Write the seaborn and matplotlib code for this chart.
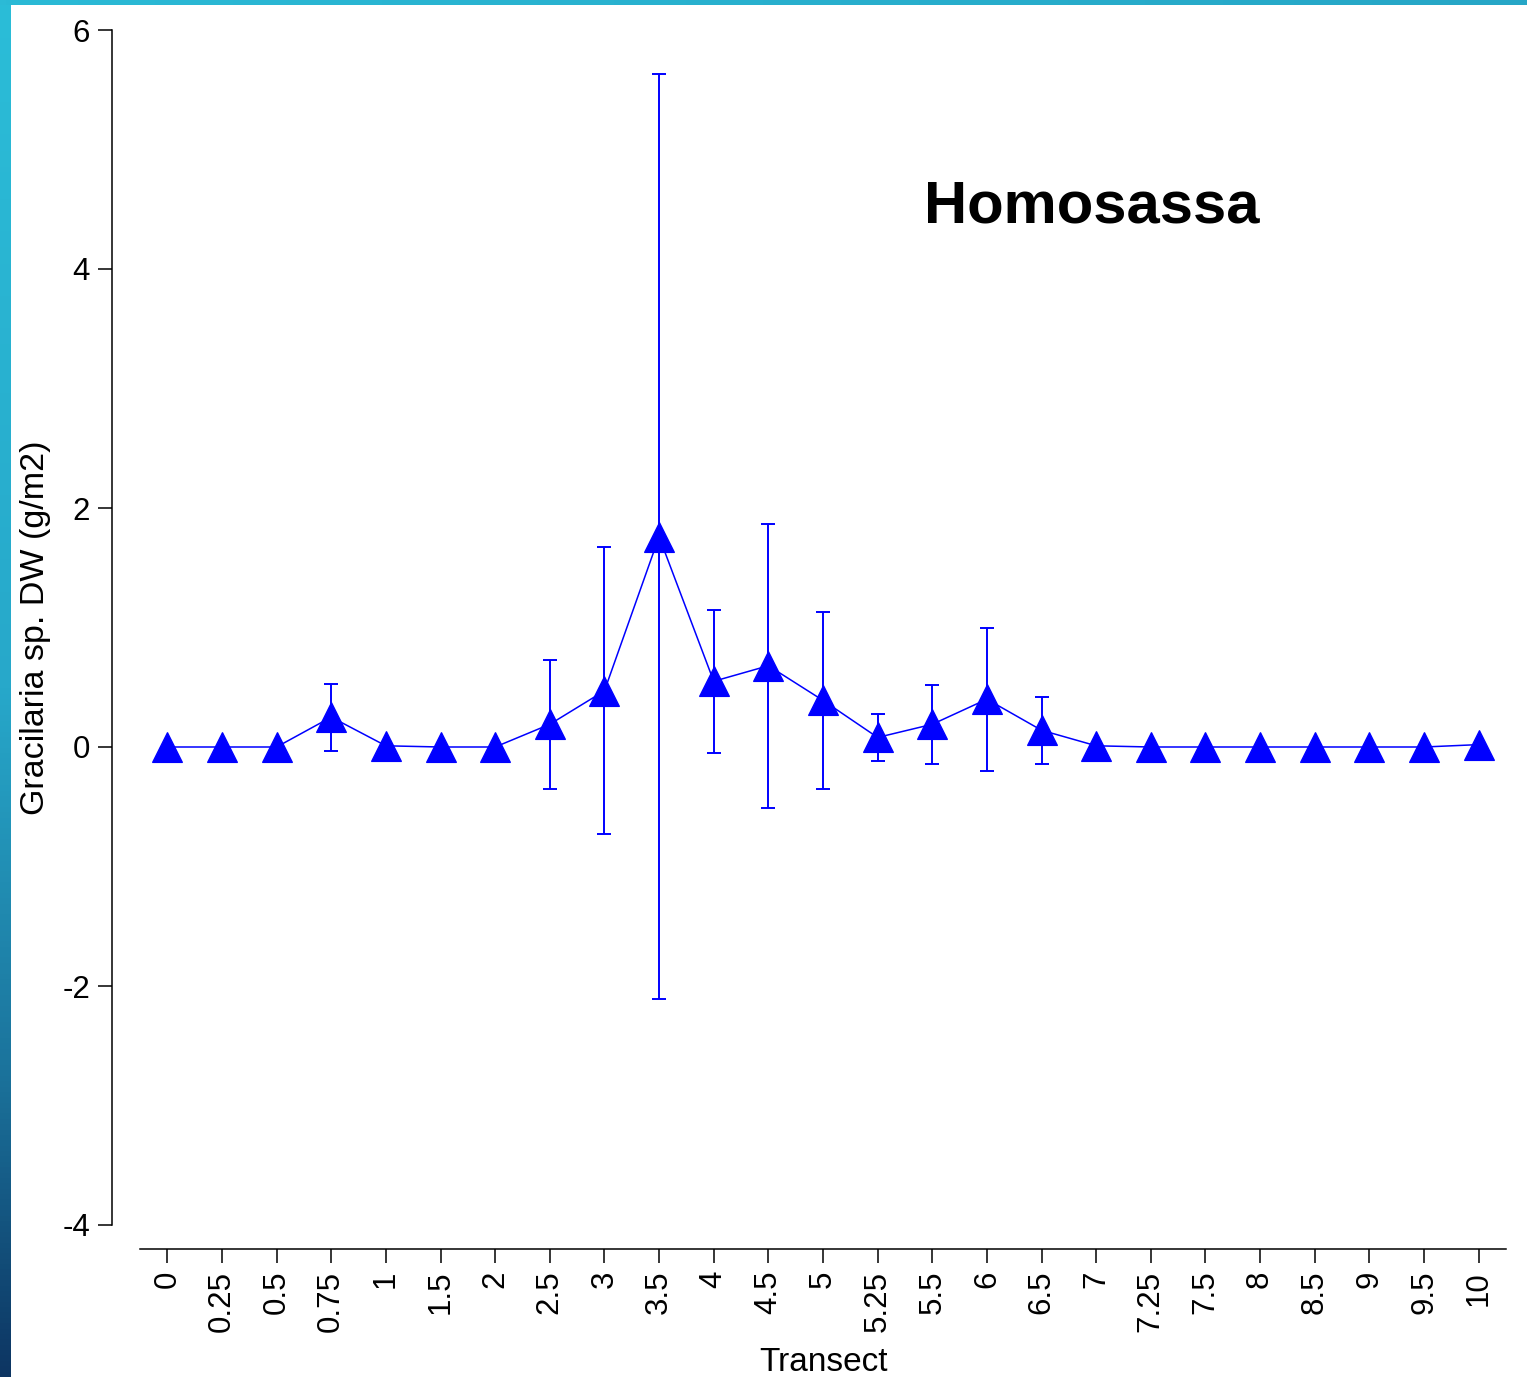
import numpy as np
import pandas as pd
import seaborn as sns
import matplotlib.pyplot as plt
from matplotlib.colors import LinearSegmentedColormap

# Transect positions (categorical) and Gracilaria dry weight means / errors
transects = ["0", "0.25", "0.5", "0.75", "1", "1.5", "2", "2.5", "3", "3.5",
             "4", "4.5", "5", "5.25", "5.5", "6", "6.5", "7", "7.25", "7.5",
             "8", "8.5", "9", "9.5", "10"]
mean_dw = [0.0, 0.0, 0.0, 0.25, 0.01, 0.0, 0.0, 0.19, 0.47, 1.76,
           0.55, 0.68, 0.39, 0.08, 0.19, 0.40, 0.14, 0.01, 0.0, 0.0,
           0.0, 0.0, 0.0, 0.0, 0.02]
err_dw = [0.0, 0.0, 0.0, 0.28, 0.0, 0.0, 0.0, 0.54, 1.20, 3.87,
          0.60, 1.19, 0.74, 0.20, 0.33, 0.60, 0.28, 0.0, 0.0, 0.0,
          0.0, 0.0, 0.0, 0.0, 0.0]

df = pd.DataFrame({"Transect": transects, "DW": mean_dw, "err": err_dw})

sns.set_style("ticks")
plt.rcParams["font.family"] = ["Liberation Sans", "DejaVu Sans"]
plt.rcParams["axes.labelcolor"] = "black"
plt.rcParams["text.color"] = "black"

W, H = 1527, 1377
fig = plt.figure(figsize=(W / 100, H / 100), dpi=100)

# decorative frame: gradient bar on the left, flat bar on top
grad = LinearSegmentedColormap.from_list(
    "frame", [(0.0, "#2bbdd8"), (0.5, "#27a8ca"), (0.78, "#1b739c"), (1.0, "#0d3562")])
lax = fig.add_axes([0, 0, 11 / W, 1])
lax.imshow(np.linspace(0, 1, 256).reshape(-1, 1), aspect="auto", cmap=grad)
lax.set_axis_off()
tax = fig.add_axes([0, 1 - 5 / H, 1, 5 / H])
tax.imshow(np.linspace(0, 1, 256).reshape(1, -1), aspect="auto",
           cmap=LinearSegmentedColormap.from_list("top", ["#2bbad6", "#26a6c6"]))
tax.set_axis_off()

ax = fig.add_axes([140 / W, 1 - 1225 / H, (1506 - 140) / W, (1225 - 30) / H])

xpos = np.arange(len(transects))
ax.errorbar(xpos, df["DW"], yerr=df["err"], fmt="none", ecolor="#0000ff",
            elinewidth=1.4, capsize=5, capthick=1.4, zorder=2)
sns.pointplot(data=df, x="Transect", y="DW", order=transects, color="#0000ff",
              markers="^", markersize=21, linewidth=1.1, errorbar=None, ax=ax,
              zorder=3)

ax.set_xlim(-0.5, len(transects) - 0.5)
ax.set_ylim(-4, 6)
ax.set_yticks([-4, -2, 0, 2, 4, 6])
ax.set_yticklabels(["-4", "-2", "0", "2", "4", "6"])

for side in ("top", "right"):
    ax.spines[side].set_visible(False)
ax.spines["left"].set_position(("outward", 20))
ax.spines["bottom"].set_position(("outward", 17))
for side in ("left", "bottom"):
    ax.spines[side].set_linewidth(1.1)
    ax.spines[side].set_color("black")

ax.tick_params(axis="both", length=10, width=1.1, color="black",
               labelsize=22.5, labelcolor="black")
ax.tick_params(axis="y", pad=6)
ax.tick_params(axis="x", pad=6, labelrotation=90)

ax.set_xlabel("Transect", fontsize=24, labelpad=11, color="black")
ax.set_ylabel("Gracilaria sp. DW (g/m2)", fontsize=24.5, labelpad=8, color="black")

fig.text(1092 / W, 1 - 207 / H, "Homosassa", fontsize=43, fontweight="bold",
         ha="center", va="center", color="black")

fig.savefig("out.png", dpi=100, facecolor="white")
